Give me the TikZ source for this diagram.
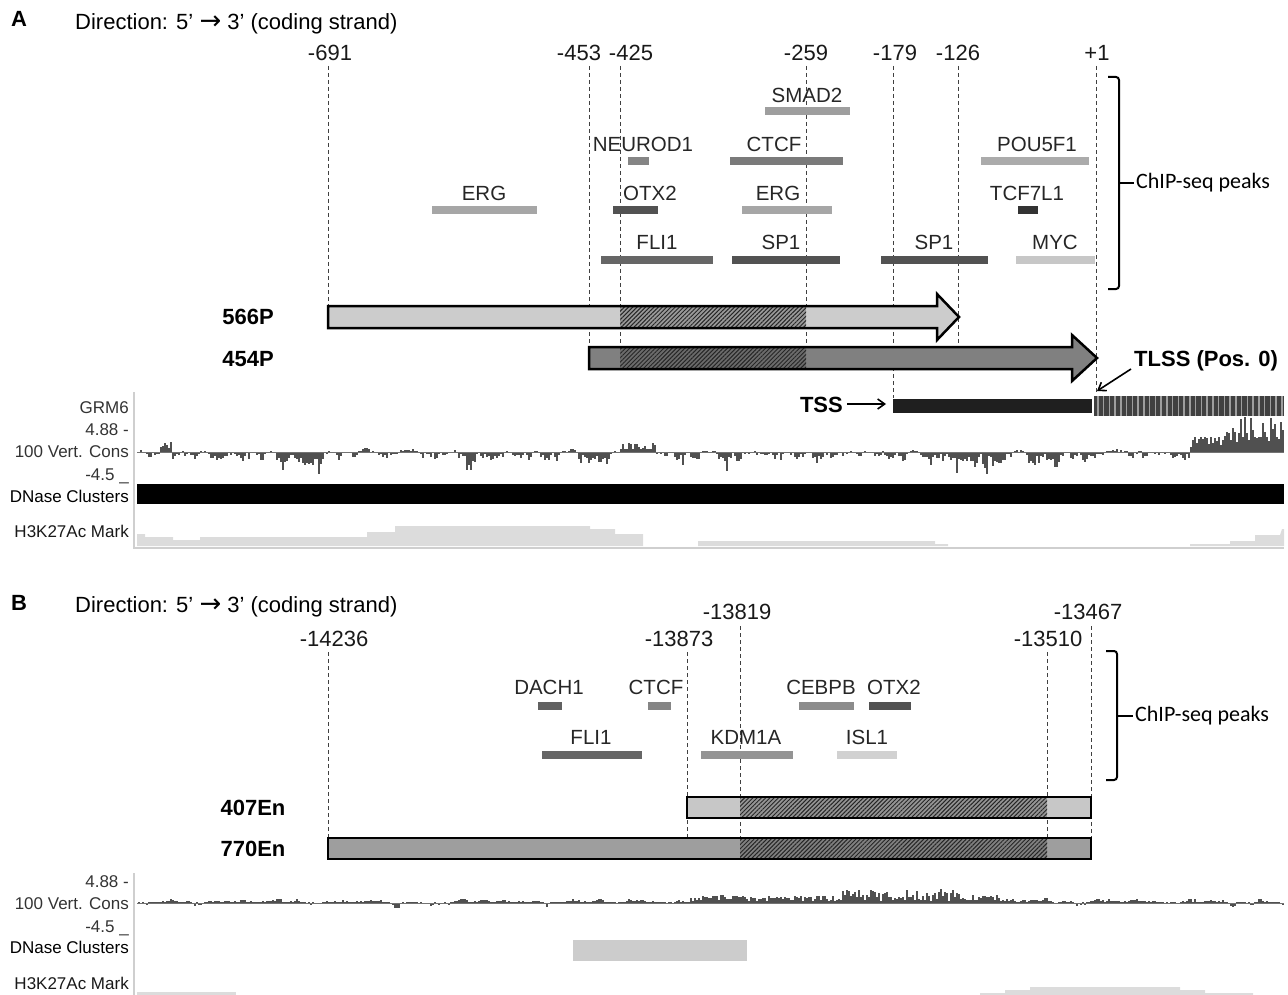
\documentclass[tikz,border=0pt]{standalone}
\usepackage{fontspec}
\setmainfont{Liberation Sans}
\newfontfamily\calfont{Carlito}
\newfontfamily\djv{DejaVu Sans}
\usetikzlibrary{arrows.meta,patterns.meta}
\definecolor{consc}{HTML}{505050}
\definecolor{hkc}{HTML}{DCDCDC}
\definecolor{axc}{HTML}{CFCFCF}
\newcommand{\rarr}{{\djv\fontsize{26}{26}\selectfont →}}
\tikzset{
 poslab/.style={font=\fontsize{22}{25}\selectfont, inner sep=0pt, anchor=base, text=black!90},
 tflab/.style={font=\fontsize{20.5}{24}\selectfont, inner sep=0pt, anchor=base, text=black!85},
 guide/.style={draw=black!75, line width=0.9pt, dash pattern=on 4pt off 3pt},
 trklab/.style={font=\fontsize{17}{20}\selectfont, inner sep=0pt, anchor=base east, text=black!80},
 boldlab/.style={font=\bfseries\fontsize{22}{26}\selectfont, inner sep=0pt, anchor=base},
 outlinebox/.style={draw=black, line width=2.5pt, line join=miter},
 hatchfill/.style={pattern={Lines[angle=45,distance=3pt,line width=1pt]}, pattern color=black!85},
 bracketline/.style={draw=black, line width=2pt, rounded corners=3pt},
 chiplab/.style={font=\calfont\fontsize{22}{26}\selectfont, inner sep=0pt, anchor=west},
 ptr/.style={draw=black, line width=1.6pt, -{Straight Barb[length=7pt,width=10pt]}},
}
\begin{document}
\begin{tikzpicture}[x=1pt,y=-1pt]
\useasboundingbox (0,0) rectangle (1288,995);

% ================= PANEL A =================
\node[boldlab, anchor=base west] (pA) at (11,27) {A};
\node[font=\fontsize{22}{26}\selectfont, inner sep=0pt, anchor=base west] (dirA) at (75,30) {Direction: 5’ \rarr\ 3’ (coding strand)};

% guide lines
\draw[guide] (328,66) -- (328,306);
\draw[guide] (589,66) -- (589,348);
\draw[guide] (620,66) -- (620,348);
\draw[guide] (806,66) -- (806,348);
\draw[guide] (893,66) -- (893,398);
\draw[guide] (958,66) -- (958,348);
\draw[guide] (1096,66) -- (1096,394);

% position labels
\node[poslab] (a691) at (330,61) {-691};
\node[poslab] (a453) at (579,61) {-453};
\node[poslab] (a425) at (631,61) {-425};
\node[poslab] (a259) at (806,61) {-259};
\node[poslab] (a179) at (895,61) {-179};
\node[poslab] (a126) at (958,61) {-126};
\node[poslab] (a1) at (1097,61) {+1};

% ChIP-seq peaks A
\node[tflab] (smad2) at (807,103) {SMAD2};
\fill[black!38] (765,107) rectangle (850,115);
\node[tflab] (neurod1) at (643,152) {NEUROD1};
\fill[black!48] (628,157) rectangle (649,165);
\node[tflab] (ctcfA) at (774,152) {CTCF};
\fill[black!52] (730,157) rectangle (843,165);
\node[tflab] (pou5f1) at (1037,152) {POU5F1};
\fill[black!33] (981,157) rectangle (1089,165);
\node[tflab] (ergA1) at (484,201) {ERG};
\fill[black!35] (432,206) rectangle (537,214);
\node[tflab] (otx2A) at (650,201) {OTX2};
\fill[black!68] (613,206) rectangle (658,214);
\node[tflab] (ergA2) at (778,201) {ERG};
\fill[black!35] (742,206) rectangle (832,214);
\node[tflab] (tcf7l1) at (1027,201) {TCF7L1};
\fill[black!80] (1018,206) rectangle (1038,214);
\node[tflab] (fli1A) at (657,250) {FLI1};
\fill[black!60] (601,256) rectangle (713,264);
\node[tflab] (sp1A1) at (781,250) {SP1};
\fill[black!68] (732,256) rectangle (840,264);
\node[tflab] (sp1A2) at (934,250) {SP1};
\fill[black!68] (881,256) rectangle (988,264);
\node[tflab] (myc) at (1055,250) {MYC};
\fill[black!22] (1016,256) rectangle (1095,264);

% bracket A
\draw[bracketline] (1108,77) -- (1119,77) -- (1119,289) -- (1108,289);
\draw[black, line width=2pt] (1119,183) -- (1134,183);
\node[chiplab] (chipA) at (1136,183) {ChIP-seq peaks};

% 566P construct
\node[boldlab] (c566) at (248,324) {566P};
\fill[black!20] (328,306) -- (937,306) -- (937,294) -- (959,317) -- (937,340) -- (937,328) -- (328,328) -- cycle;
\fill[black!40] (620,306) rectangle (806,328);
\fill[hatchfill] (620,306) rectangle (806,328);
\draw[outlinebox] (328,306) -- (937,306) -- (937,294) -- (959,317) -- (937,340) -- (937,328) -- (328,328) -- cycle;

% 454P construct
\node[boldlab] (c454) at (248,366) {454P};
\fill[black!50] (589,347) -- (1072,347) -- (1072,335) -- (1097,358) -- (1072,381) -- (1072,369) -- (589,369) -- cycle;
\fill[black!58] (620,347) rectangle (806,369);
\fill[hatchfill] (620,347) rectangle (806,369);
\draw[outlinebox] (589,347) -- (1072,347) -- (1072,335) -- (1097,358) -- (1072,381) -- (1072,369) -- (589,369) -- cycle;

% TLSS / TSS
\node[boldlab, anchor=base west] (tlss) at (1134,366) {TLSS (Pos. 0)};
\coordinate (tlsspt) at (1097,391);
\draw[ptr] (1131,369) -- (tlsspt);
\node[boldlab, anchor=base east] (tss) at (843,412) {TSS};
\coordinate (tsspt) at (886,404);
\draw[ptr] (tss.east |- tsspt) ++(4,0) -- (tsspt);

% GRM6 gene
\fill[black!88] (893,399) rectangle (1092,413);
\fill[black!75] (1094,396) rectangle (1284,416);
\foreach \i in {0,...,32}{
  \fill[black!38] ({1097+\i*5.75},396) rectangle ++(1.6,20);
}

% track axis A
\draw[axc, line width=1.2pt] (134,392) -- (134,548) -- (1284,548);
\node[trklab] (grm6) at (129,413) {GRM6};
\node[trklab] (a488) at (129,435) {4.88 -};
\node[trklab] (acons) at (129,457) {100 Vert. Cons};
\node[trklab] (a45) at (129,480) {-4.5 \_};
\node[trklab, text=black] (adnase) at (129,502) {DNase Clusters};
\node[trklab, text=black!90] (ah3k) at (129,537) {H3K27Ac Mark};

% conservation A (smoothed random process with jitter)
\pgfmathsetseed{21}
\gdef\vprev{0}
\foreach \x in {138,140,...,1282}{
  \pgfmathsetmacro\v{0.82*\vprev+(rnd-0.56)*2.2}
  \global\let\vprev\v
  \pgfmathsetmacro\s{rnd}
  \pgfmathsetmacro\h{(\x>1188)?((\x>1222)?(10+26*\s):(3+12*\s)):(((\x>158)&&(\x<172))?(3+8*\s):(((\x>618)&&(\x<656))?(2+7*\s):((\v<0)?(4.2*\v*(0.4+1.2*\s)):(1.6*\v*(0.5+\s)))))}
  \fill[consc] (\x,452) rectangle ({\x+2},{452-(\h)});
}
\draw[black!55, line width=0.8pt] (137,452) -- (1284,452);

% DNase A
\fill[black] (137,484) rectangle (1284,504);

% H3K27Ac A
\fill[hkc] (137,546) -- (137,534) -- (145,534) -- (145,537) -- (173,537) -- (173,540) -- (200,540) -- (200,537) -- (367,537) -- (367,532) -- (395,532) -- (395,526) -- (590,526) -- (590,529) -- (615,529) -- (615,534) -- (643,534) -- (643,546) -- cycle;
\fill[hkc] (698,546) -- (698,541) -- (935,541) -- (935,544) -- (948,544) -- (948,546) -- cycle;
\fill[hkc] (1190,546) -- (1190,544) -- (1230,544) -- (1230,541) -- (1255,541) -- (1255,535) -- (1280,535) -- (1282,529) -- (1284,529) -- (1284,546) -- cycle;

% ================= PANEL B =================
\node[boldlab, anchor=base west] (pB) at (11,610) {B};
\node[font=\fontsize{22}{26}\selectfont, inner sep=0pt, anchor=base west] (dirB) at (75,612) {Direction: 5’ \rarr\ 3’ (coding strand)};

\draw[guide] (328,652) -- (328,838);
\draw[guide] (687,652) -- (687,838);
\draw[guide] (740,626) -- (740,838);
\draw[guide] (1047,652) -- (1047,838);
\draw[guide] (1091,626) -- (1091,838);

\node[poslab] (b14236) at (334,646) {-14236};
\node[poslab] (b13873) at (679,646) {-13873};
\node[poslab] (b13819) at (737,619) {-13819};
\node[poslab] (b13510) at (1048,646) {-13510};
\node[poslab] (b13467) at (1088,619) {-13467};

\node[tflab] (dach1) at (549,694) {DACH1};
\fill[black!62] (538,702) rectangle (562,710);
\node[tflab] (ctcfB) at (656,694) {CTCF};
\fill[black!48] (648,702) rectangle (671,710);
\node[tflab] (cebpb) at (821,694) {CEBPB};
\fill[black!45] (799,702) rectangle (854,710);
\node[tflab] (otx2B) at (894,694) {OTX2};
\fill[black!68] (869,702) rectangle (911,710);
\node[tflab] (fli1B) at (591,744) {FLI1};
\fill[black!60] (542,751) rectangle (642,759);
\node[tflab] (kdm1a) at (746,744) {KDM1A};
\fill[black!42] (701,751) rectangle (793,759);
\node[tflab] (isl1) at (867,744) {ISL1};
\fill[black!18] (837,751) rectangle (897,759);

\draw[bracketline] (1106,651) -- (1117,651) -- (1117,780) -- (1106,780);
\draw[black, line width=2pt] (1117,716) -- (1133,716);
\node[chiplab] (chipB) at (1135,716) {ChIP-seq peaks};

% 407En
\node[boldlab] (c407) at (253,815) {407En};
\fill[black!22] (687,797) rectangle (1091,818);
\fill[black!42] (740,797) rectangle (1047,818);
\fill[hatchfill] (740,797) rectangle (1047,818);
\draw[outlinebox] (687,797) rectangle (1091,818);

% 770En
\node[boldlab] (c770) at (253,856) {770En};
\fill[black!38] (328,838) rectangle (1091,859);
\fill[black!50] (740,838) rectangle (1047,859);
\fill[hatchfill] (740,838) rectangle (1047,859);
\draw[outlinebox] (328,838) rectangle (1091,859);

% track axis B
\draw[axc, line width=1.2pt] (134,873) -- (134,995);
\node[trklab] (b488) at (129,887) {4.88 -};
\node[trklab] (bcons) at (129,909) {100 Vert. Cons};
\node[trklab] (b45) at (129,932) {-4.5 \_};
\node[trklab, text=black] (bdnase) at (129,953) {DNase Clusters};
\node[trklab, text=black!90] (bh3k) at (129,989) {H3K27Ac Mark};

% conservation B
\pgfmathsetseed{5}
\gdef\vprev{0}
\foreach \x in {138,140,...,1282}{
  \pgfmathsetmacro\v{0.8*\vprev+(rnd-0.47)*2}
  \global\let\vprev\v
  \pgfmathsetmacro\s{rnd}
  \pgfmathsetmacro\h{((\x>688)&&(\x<1000))?(2+((((\x>840)&&(\x<960)))?12:6)*\s):((\v<-0.8)?(3*(\v+0.8)*(0.5+\s)):(max(0,1.5*\v)*(0.5+\s)+0.8))}
  \fill[consc] (\x,903) rectangle ({\x+2},{903-(\h)});
}
\draw[black!55, line width=0.8pt] (137,903) -- (1284,903);

% DNase B
\fill[black!20] (573,940) rectangle (747,961);

% H3K27Ac B
\fill[hkc] (137,995) rectangle (236,992);
\fill[hkc] (980,995) -- (980,993) -- (1005,993) -- (1005,990) -- (1030,990) -- (1030,987) -- (1180,987) -- (1180,990) -- (1205,990) -- (1205,993) -- (1253,993) -- (1253,995) -- cycle;

\end{tikzpicture}
\end{document}
